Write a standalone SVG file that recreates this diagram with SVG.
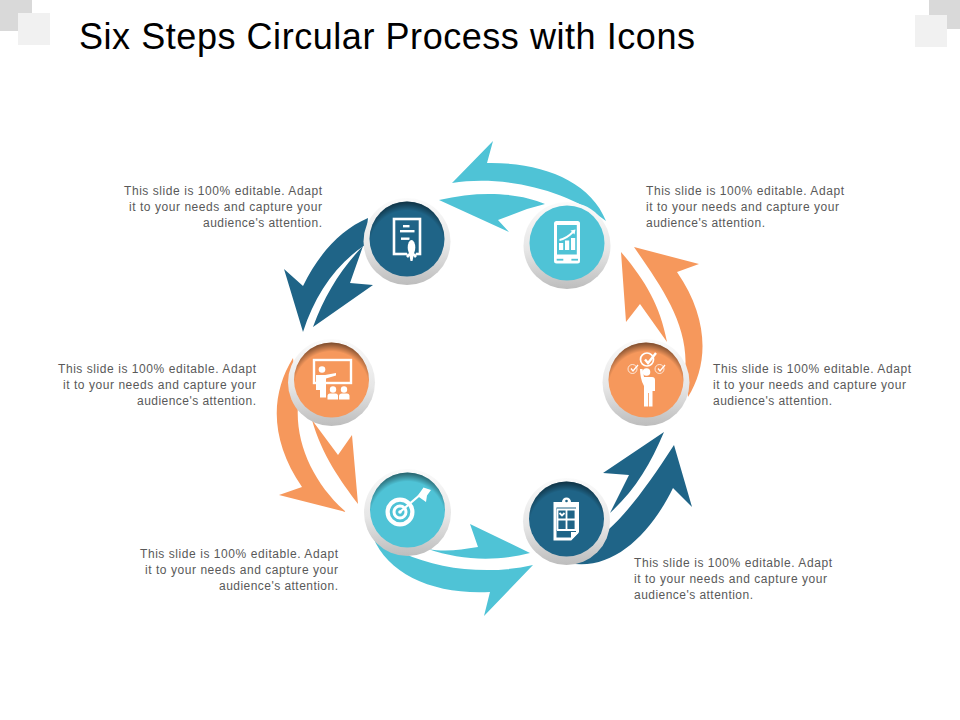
<svg xmlns="http://www.w3.org/2000/svg" width="960" height="720" viewBox="0 0 960 720">
<style>
.title{font-family:"Liberation Sans",Arial,sans-serif;font-size:36px;fill:#000}
.lbl{font-family:"Liberation Sans",Arial,sans-serif;font-size:12px;fill:#595959}
.r{text-anchor:end}
.ring{fill:url(#ringG)}
.shade{fill:url(#shadeG)}
.teal{fill:#4fc3d6}.dark{fill:#1f6487}.orange{fill:#f6985c}
.w{fill:#fff}
.ws{fill:none;stroke:#fff}
</style>
<defs>
<linearGradient id="ringG" x1="0" y1="0" x2="0" y2="1"><stop offset="0" stop-color="#fbfbfb"/><stop offset=".55" stop-color="#e6e6e6"/><stop offset="1" stop-color="#bdbdbd"/></linearGradient>
<radialGradient id="shadeG" cx=".5" cy=".62" r=".64"><stop offset=".78" stop-color="#000" stop-opacity="0"/><stop offset="1" stop-color="#000" stop-opacity=".6"/></radialGradient>
</defs>
<rect width="960" height="720" fill="#fff"/>
<g id="corners">
<rect x="0" y="0" width="32" height="31" fill="#d9d9d9"/><rect x="18" y="13" width="32" height="32" fill="#f1f1f1"/>
<rect x="929" y="0" width="31" height="29" fill="#d9d9d9"/><rect x="915" y="15" width="32" height="32" fill="#f1f1f1"/>
</g>
<text class="title" x="79" y="49" textLength="616">Six Steps Circular Process with Icons</text>
<g id="connectors">
<path class="teal" d="M606 221C590 180 540 162 487 163L493 141L452 183C500 175 565 188 606 221Z"/>
<path class="teal" d="M439 200C480 190 520 193 545 204L527 209L498 220L509 232Z"/>
<path class="orange" d="M688 397C708 365 710 320 677 272L699 264L634 247C660 285 690 325 685 372Z"/>
<path class="orange" d="M621 252L626 322L640 304L667 342C660 305 645 280 621 252Z"/>
<path class="dark" d="M368 218C340 230 318 255 303 286L284 269L303 332C315 295 335 265 365 245Z"/>
<path class="dark" d="M363 246L350 283L373 285L313 327C325 295 340 270 363 246Z"/>
<path class="orange" d="M293 358C270 395 270 440 302 487L279 495L346 512C315 485 295 445 298 405Z"/>
<path class="orange" d="M312 420L338 455L352 435L358 504C340 480 322 455 312 420Z"/>
<path class="teal" d="M373 537C388 575 435 595 490 592L484 616L533 565C490 575 440 570 403 553Z"/>
<path class="teal" d="M428 549C445 552 460 550 478 547L470 524L530 553C495 562 460 560 428 549Z"/>
<path class="dark" d="M568 563C612 572 650 535 673 488L692 507L674 445C650 482 630 510 608 530Z"/>
<path class="dark" d="M664 432L603 473L629 475L610 513C635 490 650 465 664 432Z"/>
</g>
<g id="node-certificate">
<circle class="ring" cx="407" cy="241.5" r="43.5"/><circle class="dark" cx="407" cy="239" r="37.5"/><circle class="shade" cx="407" cy="239" r="37.5"/>
<rect class="ws" x="394" y="219" width="26" height="35" stroke-width="2.6"/>
<rect class="w" x="403" y="225" width="6.5" height="2.4"/><rect class="w" x="400" y="230" width="14.5" height="2.4"/><rect class="w" x="401" y="237.5" width="8.5" height="2.4"/>
<ellipse cx="411.5" cy="248" rx="5.5" ry="9" fill="#1f6487"/><ellipse class="w" cx="411.5" cy="247.5" rx="3.8" ry="7.5"/>
<path class="w" d="M406 256L410 252H413L417 256L415 258L413.5 256L412.5 261H410.5L409.5 256L408 258Z"/>
<text class="lbl r" x="322" y="195" textLength="198">This slide is 100% editable. Adapt</text>
<text class="lbl r" x="322" y="211" textLength="193">it to your needs and capture your</text>
<text class="lbl r" x="322" y="227" textLength="119">audience's attention.</text>
</g>
<g id="node-phone">
<circle class="ring" cx="567" cy="245.5" r="43.5"/><circle class="teal" cx="567" cy="243" r="37.5"/>
<rect class="w" x="554" y="221" width="26" height="42.5" rx="2.5"/>
<rect class="teal" x="557" y="225" width="19.8" height="29.5"/>
<rect class="teal" x="556.7" y="258.8" width="6.6" height="1.8"/><rect class="teal" x="571.4" y="258.8" width="6.6" height="1.8"/>
<rect class="w" x="559" y="243" width="4.2" height="7"/><rect class="w" x="565" y="240.5" width="4.2" height="9.5"/><rect class="w" x="571" y="238" width="4.2" height="12"/>
<path class="ws" stroke-width="1.8" d="M559.5 240C565 239 569 236 573 232"/><path class="w" d="M570.5 230.5L575.5 229.5L574.5 234.5Z"/>
<text class="lbl" x="646" y="195" textLength="198">This slide is 100% editable. Adapt</text>
<text class="lbl" x="646" y="211" textLength="193">it to your needs and capture your</text>
<text class="lbl" x="646" y="227" textLength="119">audience's attention.</text>
</g>
<g id="node-person">
<circle class="ring" cx="646" cy="382.5" r="43.5"/><circle class="orange" cx="646" cy="380" r="37.5"/><circle class="shade" cx="646" cy="380" r="37.5"/>
<circle class="ws" stroke-width="1.7" cx="647" cy="359.5" r="6.5"/><path class="ws" stroke-width="2.4" d="M645 359.5L648 363L656 353"/>
<circle class="ws" stroke-width="1" cx="632.5" cy="369" r="4.5" opacity=".75"/><path class="ws" stroke-width="1.3" d="M631 368.5L633 371L638 365"/>
<circle class="ws" stroke-width="1" cx="659.5" cy="369" r="4.5" opacity=".75"/><path class="ws" stroke-width="1.3" d="M658 368.5L660 371L665 365"/>
<circle class="w" cx="646.5" cy="372" r="3.8"/>
<path class="w" d="M640 369H642.5L644 377H652Q655 377 655 380V391H652.5V406.5H648.8V393H648V406.5H644V386C641 381 640 374 640 369Z"/>
<text class="lbl" x="713" y="373" textLength="198">This slide is 100% editable. Adapt</text>
<text class="lbl" x="713" y="389" textLength="193">it to your needs and capture your</text>
<text class="lbl" x="713" y="405" textLength="119">audience's attention.</text>
</g>
<g id="node-clipboard">
<circle class="ring" cx="566.5" cy="521.5" r="43.5"/><circle class="dark" cx="566.5" cy="519" r="37.5"/><circle class="shade" cx="566.5" cy="519" r="37.5"/>
<path class="w" d="M553.5 502H562A4.5 4.5 0 0 1 571 502H579V532L571 540.5H553.5Z"/>
<circle class="dark" cx="566.5" cy="501" r="1.3"/>
<path fill="#1f6487" d="M571 537.5H556.5V507.5H576V532H571Z"/>
<path class="ws" stroke-width="1.8" d="M557 509.5H576M566.5 509.5V530M557 519.5H576M557 530H576M575.5 509.5V530M557.5 509.5V530"/>
<path class="ws" stroke-width="1.8" d="M559.5 513L562 515.5L564.5 513"/>
<path class="w" d="M571 540.5V532.5H579Z"/>
<text class="lbl" x="634" y="567" textLength="198">This slide is 100% editable. Adapt</text>
<text class="lbl" x="634" y="583" textLength="193">it to your needs and capture your</text>
<text class="lbl" x="634" y="599" textLength="119">audience's attention.</text>
</g>
<g id="node-target">
<circle class="ring" cx="407.5" cy="512.5" r="43.5"/><circle class="teal" cx="407.5" cy="510" r="37.5"/><circle class="shade" cx="407.5" cy="510" r="37.5"/>
<circle class="ws" stroke-width="4.2" cx="400" cy="512" r="12.4"/><circle class="ws" stroke-width="3" cx="400" cy="512" r="6"/><circle class="w" cx="400" cy="512" r="1.8"/>
<path class="ws" stroke-width="2.2" d="M400 512L421 494"/>
<path class="w" d="M417.5 496L423.5 487.5L431 490L427 495.5L426 502Z"/>
<text class="lbl r" x="338" y="558" textLength="198">This slide is 100% editable. Adapt</text>
<text class="lbl r" x="338" y="574" textLength="193">it to your needs and capture your</text>
<text class="lbl r" x="338" y="590" textLength="119">audience's attention.</text>
</g>
<g id="node-teacher">
<circle class="ring" cx="331.5" cy="382.5" r="43.5"/><circle class="orange" cx="331.5" cy="380" r="37.5"/><circle class="shade" cx="331.5" cy="380" r="37.5"/>
<rect class="ws" stroke-width="2.4" x="314" y="360" width="37" height="23"/>
<circle cx="322" cy="369.5" r="4.6" fill="#f6985c"/><circle class="w" cx="322" cy="369.5" r="3.3"/>
<path class="w" d="M316 375H325L336 373V375.5L326 378.5V397.5H320V390H316Z"/>
<circle class="w" cx="333" cy="389.5" r="3.2"/><circle class="w" cx="344" cy="389.5" r="3.2"/>
<path class="w" d="M327.5 399.5V396Q327.5 393.5 330 393.5H335.5Q338 393.5 338 396V399.5Z"/><path class="w" d="M339 399.5V396Q339 393.5 342 393.5H347Q349.5 393.5 349.5 396V399.5Z"/>
<text class="lbl r" x="256" y="373" textLength="198">This slide is 100% editable. Adapt</text>
<text class="lbl r" x="256" y="389" textLength="193">it to your needs and capture your</text>
<text class="lbl r" x="256" y="405" textLength="119">audience's attention.</text>
</g>
</svg>
